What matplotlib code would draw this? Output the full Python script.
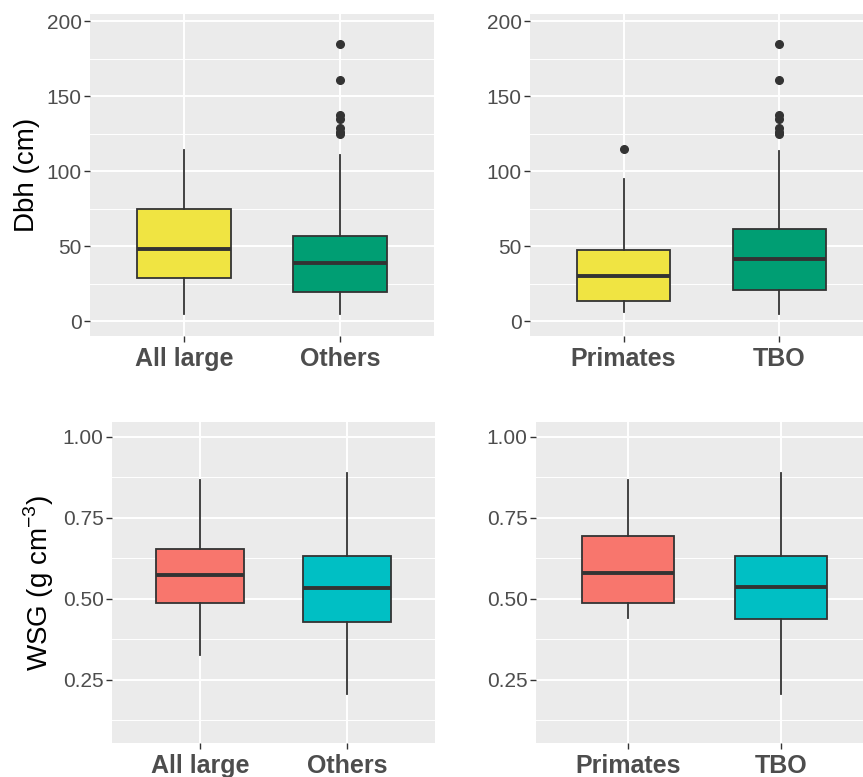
import numpy as np
import matplotlib
matplotlib.use("Agg")
import matplotlib.pyplot as plt

plt.rcParams['font.family'] = ['Liberation Sans', 'DejaVu Sans']
plt.rcParams['mathtext.fontset'] = 'custom'
plt.rcParams['mathtext.rm'] = 'Liberation Sans'

# box statistics: (whislo, q1, med, q3, whishi)
dbh_cats_a = ['All large', 'Others']
dbh_stats_a = [[5, 29, 48, 75, 114.5],
               [5, 19.5, 39, 57, 111]]
dbh_fliers_a = [[],
                [184.7, 160.7, 137.8, 135, 128.7, 126.5, 125]]

dbh_cats_b = ['Primates', 'TBO']
dbh_stats_b = [[6, 13.5, 30, 47.7, 95],
               [5, 20.6, 41.7, 61.5, 113.6]]
dbh_fliers_b = [[114.8],
                [184.7, 160.7, 137.8, 135, 128.7, 126.5, 125]]

wsg_cats_a = ['All large', 'Others']
wsg_stats_a = [[0.327, 0.487, 0.574, 0.653, 0.867],
               [0.207, 0.427, 0.534, 0.633, 0.889]]

wsg_cats_b = ['Primates', 'TBO']
wsg_stats_b = [[0.439, 0.488, 0.580, 0.694, 0.867],
               [0.207, 0.438, 0.537, 0.633, 0.889]]

dbh_colors = ['#F0E442', '#009E73']
wsg_colors = ['#F8766D', '#00BFC4']

W, H = 863, 777
fig = plt.figure(figsize=(W / 100, H / 100), dpi=100)


def box_panel(rect, cats, stats, fliers, colors, ylim, majors, minors, fmt, ylabel=None):
    l, t, r, b = rect
    ax = fig.add_axes([l / W, 1 - b / H, (r - l) / W, (b - t) / H])
    ax.set_facecolor('#EBEBEB')
    for s in ax.spines.values():
        s.set_visible(False)
    for y in minors:
        ax.axhline(y, color='white', lw=0.7, zorder=0)
    for y in majors:
        ax.axhline(y, color='white', lw=1.4, zorder=0)
    for x in range(1, len(cats) + 1):
        ax.axvline(x, color='white', lw=1.4, zorder=0)
    bxs = []
    for i, st in enumerate(stats):
        bxs.append(dict(whislo=st[0], q1=st[1], med=st[2], q3=st[3], whishi=st[4],
                        fliers=fliers[i] if fliers else []))
    res = ax.bxp(bxs, positions=range(1, len(cats) + 1), widths=0.6, patch_artist=True,
                 showcaps=False,
                 boxprops=dict(edgecolor='#333333', linewidth=1.3),
                 whiskerprops=dict(color='#333333', linewidth=1.3),
                 medianprops=dict(color='#333333', linewidth=2.8),
                 flierprops=dict(marker='o', markerfacecolor='#333333', markeredgecolor='#333333',
                                 markersize=5.5))
    for p, c in zip(res['boxes'], colors):
        p.set_facecolor(c)
    ax.set_xlim(0.4, len(cats) + 0.6)
    ax.set_ylim(*ylim)
    ax.set_yticks(majors)
    ax.set_yticklabels([fmt.format(v) for v in majors], fontsize=15, color='#4D4D4D')
    ax.set_xticks(range(1, len(cats) + 1))
    ax.set_xticklabels(cats, fontsize=18, fontweight='bold', color='#4D4D4D')
    ax.tick_params(axis='both', length=4, width=1, color='#333333', pad=2)
    ax.tick_params(axis='x', pad=4)
    if ylabel:
        ax.set_ylabel(ylabel, fontsize=20, color='black', labelpad=5)
    return ax


box_panel((90, 14, 434, 336), dbh_cats_a, dbh_stats_a, dbh_fliers_a, dbh_colors,
          (-10, 205), [0, 50, 100, 150, 200], [25, 75, 125, 175], '{:.0f}', 'Dbh (cm)')
box_panel((530, 14, 873, 336), dbh_cats_b, dbh_stats_b, dbh_fliers_b, dbh_colors,
          (-10, 205), [0, 50, 100, 150, 200], [25, 75, 125, 175], '{:.0f}')
box_panel((112, 422, 435, 743), wsg_cats_a, wsg_stats_a, None, wsg_colors,
          (0.055, 1.045), [0.25, 0.5, 0.75, 1.0], [0.125, 0.375, 0.625, 0.875], '{:.2f}',
          'WSG (g cm$^{-3}$)')
box_panel((536, 422, 873, 743), wsg_cats_b, wsg_stats_b, None, wsg_colors,
          (0.055, 1.045), [0.25, 0.5, 0.75, 1.0], [0.125, 0.375, 0.625, 0.875], '{:.2f}')

fig.savefig('out.png', dpi=100)
